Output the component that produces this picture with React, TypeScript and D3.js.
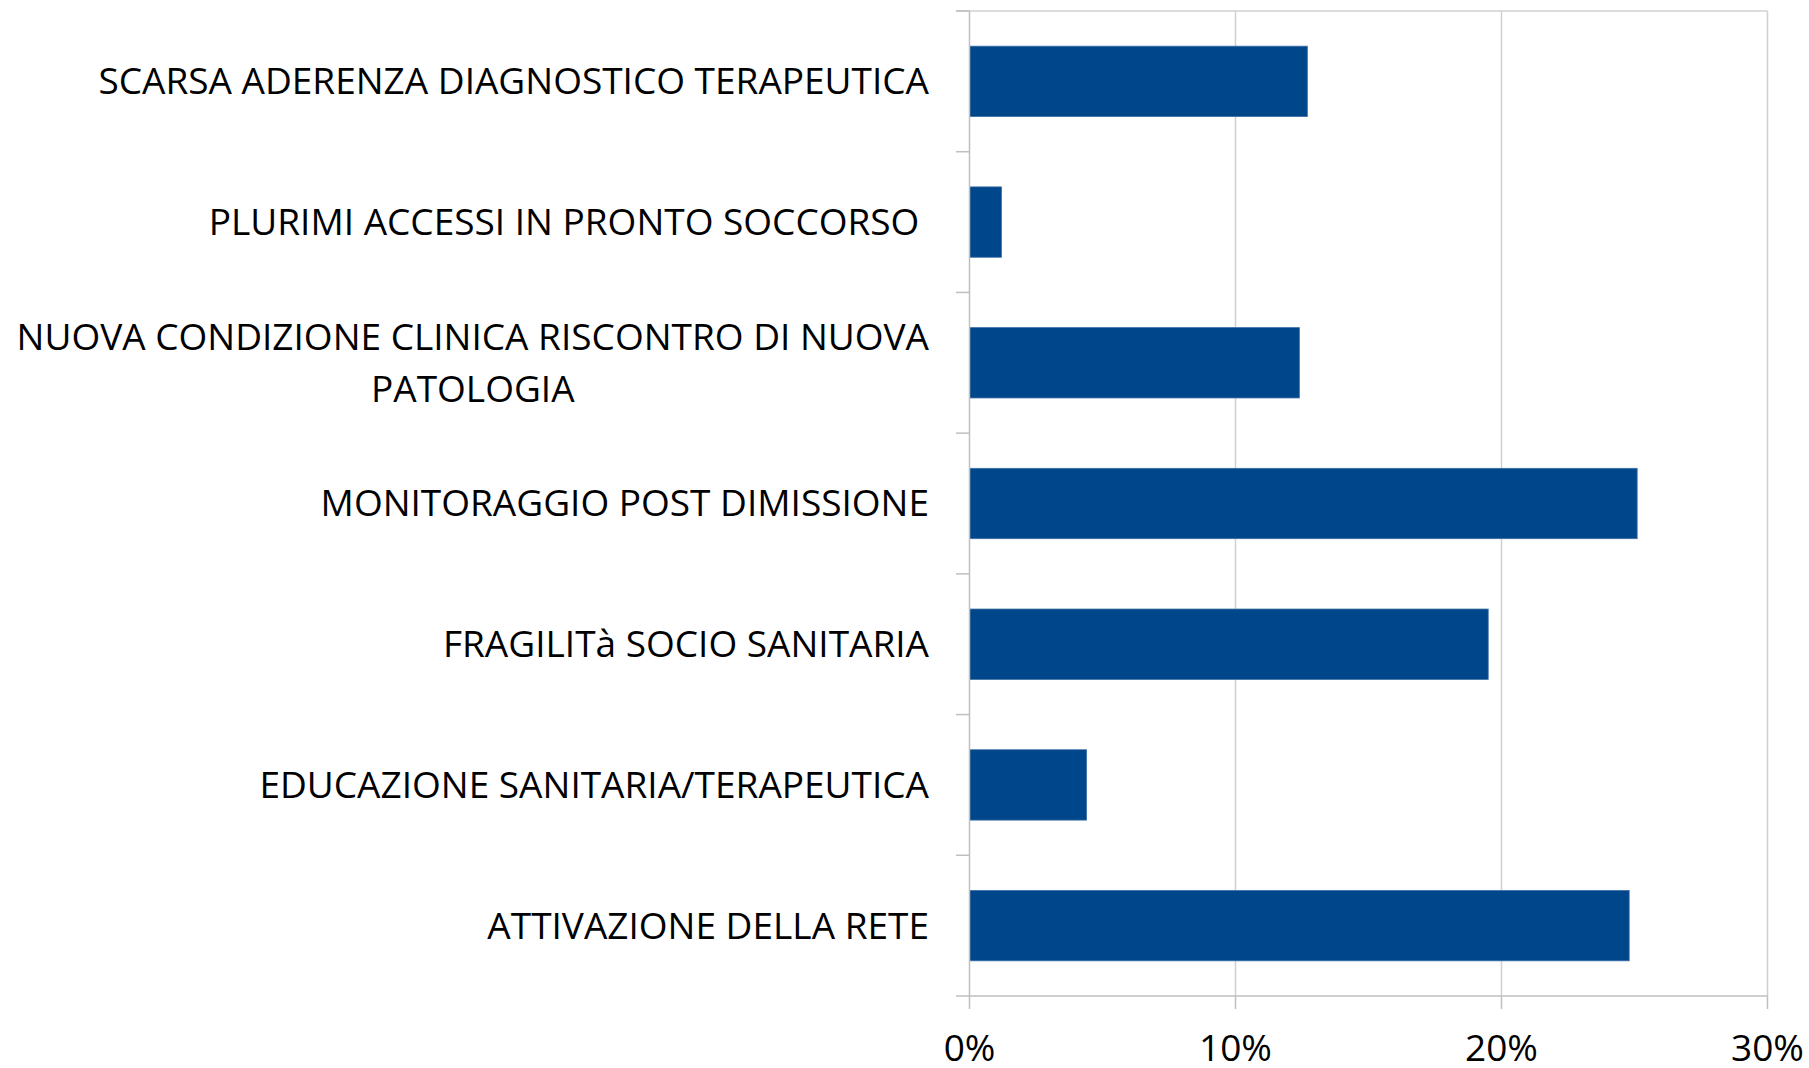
import React, { useEffect, useRef } from "react";
import * as d3 from "d3";

const categories: string[][] = [
  ["SCARSA ADERENZA DIAGNOSTICO TERAPEUTICA"],
  ["PLURIMI ACCESSI IN PRONTO SOCCORSO "],
  ["NUOVA CONDIZIONE CLINICA RISCONTRO DI NUOVA", "PATOLOGIA"],
  ["MONITORAGGIO POST DIMISSIONE"],
  ["FRAGILITà SOCIO SANITARIA"],
  ["EDUCAZIONE SANITARIA/TERAPEUTICA"],
  ["ATTIVAZIONE DELLA RETE"],
];
const values: number[] = [12.7, 1.2, 12.4, 25.1, 19.5, 4.4, 24.8];
const ticks: number[] = [0, 10, 20, 30];

const W = 1809;
const H = 1068;
const FONT = "'Open Sans', sans-serif";
const FS = 37;

export default function App() {
  const ref = useRef<SVGSVGElement>(null);
  useEffect(() => {
    const svg = d3.select(ref.current);
    svg.selectAll("*").remove();
    const x = d3.scaleLinear().domain([0, 30]).range([969.5, 1767.5]);
    const ids = categories.map((_, i) => String(i));
    const y = d3.scaleBand<string>().domain(ids).range([11, 996]).paddingInner(0.5).paddingOuter(0.25);
    const step = y.step();
    const grid = "#d0d0d0";

    // gridlines
    svg.append("g").selectAll("line").data(ticks.slice(1)).join("line")
      .attr("x1", (d) => x(d)).attr("x2", (d) => x(d))
      .attr("y1", 11).attr("y2", 996)
      .attr("stroke", grid).attr("stroke-width", 1.5);
    // top border
    svg.append("line").attr("x1", 956).attr("x2", x(30)).attr("y1", 11).attr("y2", 11)
      .attr("stroke", grid).attr("stroke-width", 1.5);

    // bars
    svg.append("g").selectAll("rect").data(values).join("rect")
      .attr("x", x(0)).attr("y", (_, i) => y(String(i))!)
      .attr("width", (d) => x(d) - x(0)).attr("height", y.bandwidth())
      .attr("fill", "#00468a").attr("stroke", "#3a6ea5").attr("stroke-width", 0.8);

    const axisCol = "#bfbfbf";
    // category axis line and ticks
    svg.append("line").attr("x1", x(0)).attr("x2", x(0)).attr("y1", 11).attr("y2", 996)
      .attr("stroke", axisCol).attr("stroke-width", 1.5);
    svg.append("g").selectAll("line").data(d3.range(categories.length + 1)).join("line")
      .attr("x1", 956).attr("x2", x(0))
      .attr("y1", (i) => 11 + i * step).attr("y2", (i) => 11 + i * step)
      .attr("stroke", axisCol).attr("stroke-width", 1.5);
    // value axis
    svg.append("line").attr("x1", x(0)).attr("x2", x(30)).attr("y1", 996).attr("y2", 996)
      .attr("stroke", axisCol).attr("stroke-width", 1.5);
    svg.append("g").selectAll("line").data(ticks).join("line")
      .attr("x1", (d) => x(d)).attr("x2", (d) => x(d)).attr("y1", 996).attr("y2", 1009)
      .attr("stroke", axisCol).attr("stroke-width", 1.5);
    svg.append("g").selectAll("text").data(ticks).join("text")
      .attr("x", (d) => x(d)).attr("y", 1061)
      .attr("text-anchor", "middle")
      .attr("font-family", FONT).attr("font-size", FS).attr("fill", "#000")
      .text((d) => `${d}%`);

    // category labels
    const right = 929;
    const lineH = 52;
    categories.forEach((lines, i) => {
      const cy = y(String(i))! + y.bandwidth() / 2;
      const g = svg.append("g");
      const texts = lines.map((ln, j) =>
        g.append("text")
          .attr("y", cy + (j - (lines.length - 1) / 2) * lineH + FS * 0.35)
          .attr("font-family", FONT).attr("font-size", FS).attr("fill", "#000")
          .style("white-space", "pre")
          .text(ln)
      );
      const widths = texts.map((t) => (t.node() as SVGTextElement).getComputedTextLength());
      const maxW = Math.max(...widths);
      const center = right - maxW / 2;
      texts.forEach((t) => t.attr("x", center).attr("text-anchor", "middle"));
    });
  }, []);
  return (
    <svg ref={ref} width={W} height={H} style={{ position: "absolute", left: 0, top: 0, background: "#fff" }} />
  );
}
